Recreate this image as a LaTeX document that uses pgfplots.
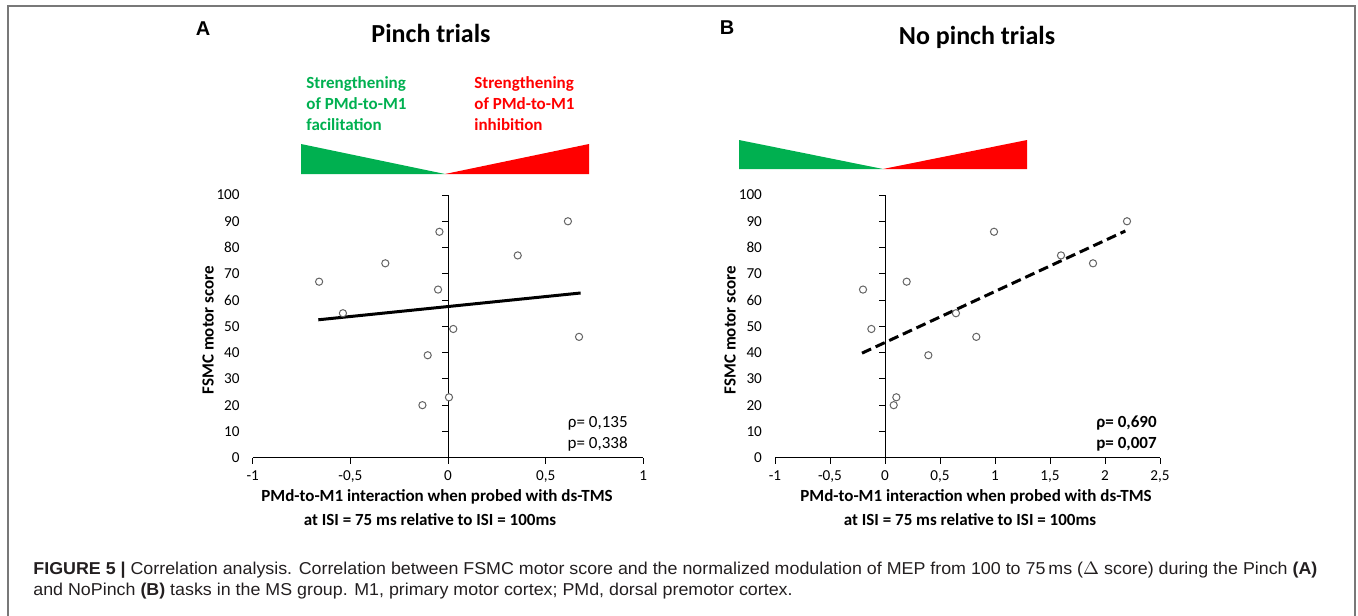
\documentclass[border=0pt]{standalone}
\usepackage{fontspec}
\setmainfont{Carlito}
\newfontfamily\capfont{Liberation Sans}
\usepackage{graphicx}
\usepackage{pgfplots}
\pgfplotsset{compat=1.18}

\definecolor{fgreen}{RGB}{0,176,80}
\definecolor{fred}{RGB}{255,0,0}
\definecolor{mkgray}{RGB}{100,100,100}
\definecolor{framegray}{RGB}{120,120,120}
\definecolor{captext}{RGB}{35,31,32}

\pgfplotstableread{
x y
-0.660 67
-0.538 55
-0.321 74
-0.044 86
-0.051 64
0.027 49
-0.104 39
-0.131 20
0.005 23
0.357 77
0.614 90
0.671 46
}\pinch

\pgfplotstableread{
x y
-0.200 64
-0.124 49
0.197 67
0.645 55
0.830 46
0.394 39
0.079 20
0.103 23
0.991 86
1.600 77
1.891 74
2.200 90
}\nopinch

\pgfplotsset{
  panel/.style={
    scale only axis, height=131.35pt, anchor=south west,
    ymin=0, ymax=100, ytick={0,10,...,100},
    axis x line=bottom, axis y line=left, axis line style={-, line width=0.5pt},
    y axis line style={draw=none}, ytick style={draw=none},
    tick align=outside, major tick length=3pt,
    xtick style={black, line width=0.5pt},
    ticklabel style={font=\fontsize{7.6}{9}\selectfont},
    /pgf/number format/use comma,
    /pgf/number format/assume math mode=true,
    clip=false,
  },
  pts/.style={only marks, mark=*, mark size=1.8pt,
    mark options={draw=mkgray, fill=white, line width=0.5pt}},
}

\newsavebox\capA
\newsavebox\capB
\begin{document}%
\sbox\capA{\capfont\fontsize{8.6}{10}\selectfont\color{captext}\textbf{FIGURE 5 |} Correlation analysis. Correlation between FSMC motor score and the normalized modulation of MEP from 100 to 75\,ms ($\Delta$ score) during the Pinch \textbf{(A)}}%
\sbox\capB{\capfont\fontsize{8.6}{10}\selectfont\color{captext}and NoPinch \textbf{(B)} tasks in the MS group. M1, primary motor cortex; PMd, dorsal premotor cortex.}%
\pgfmathsetmacro\capfac{642/\wd\capA}%
\begin{tikzpicture}[x=0.5pt, y=-0.5pt]
\useasboundingbox (0,0) rectangle (1358,615);
\draw[framegray, line width=1pt] (8,620) -- (8,6) -- (1355,6) -- (1355,620);

% panel labels and titles
\node[font=\capfont\fontsize{10}{12}\selectfont\bfseries] at (203,29) {A};
\node[font=\capfont\fontsize{10}{12}\selectfont\bfseries] at (727,28) {B};
\node[font=\fontsize{13}{15}\selectfont\bfseries] at (431,33) {Pinch trials};
\node[font=\fontsize{13}{15}\selectfont\bfseries] at (977,37) {No pinch trials};

% direction labels
\begin{scope}[every node/.style={font=\fontsize{8.5}{10}\selectfont\bfseries, inner sep=0pt}]
\node[fgreen, anchor=base west] at (306,89) {Strengthening};
\node[fgreen, anchor=base west] at (306,110) {of PMd-to-M1};
\node[fgreen, anchor=base west] at (306,130) {facilitation};
\node[fred, anchor=base west] at (474,89) {Strengthening};
\node[fred, anchor=base west] at (474,110) {of PMd-to-M1};
\node[fred, anchor=base west] at (474,130) {inhibition};
\end{scope}
\fill[fgreen] (301,144) -- (301,174) -- (445,174) -- cycle;
\fill[fred] (445,174) -- (589,174) -- (589,144) -- cycle;
\fill[fgreen] (739,140) -- (739,169) -- (883,169) -- cycle;
\fill[fred] (883,169) -- (1027,169) -- (1027,140) -- cycle;

% panel A
\begin{axis}[panel, at={(126.35pt,-228.85pt)}, width=195.3pt,
  xmin=-1, xmax=1, xtick={-1,-0.5,0,0.5,1}]
\draw[black, line width=0.5pt] (axis cs:0,0) -- (axis cs:0,100);
\pgfplotsinvokeforeach{10,20,...,100}{\draw[black, line width=0.5pt] (axis cs:0,#1) -- ++(-3pt,0pt);}
\addplot[black, line width=1.5pt] coordinates {(-0.664,52.5) (0.679,62.7)};
\addplot[pts] table {\pinch};
\end{axis}

% panel B
\begin{axis}[panel, at={(387.5pt,-228.85pt)}, width=192.5pt,
  xmin=-1, xmax=2.5, xtick={-1,-0.5,0,0.5,1,1.5,2,2.5}]
\draw[black, line width=0.5pt] (axis cs:0,0) -- (axis cs:0,100);
\pgfplotsinvokeforeach{10,20,...,100}{\draw[black, line width=0.5pt] (axis cs:0,#1) -- ++(-3pt,0pt);}
\addplot[black, line width=1.5pt, dash pattern=on 5pt off 2.5pt] coordinates {(-0.209,39.8) (2.185,86.3)};
\addplot[pts] table {\nopinch};
\end{axis}

% axis labels
\begin{scope}[every node/.style={font=\fontsize{8.5}{10}\selectfont\bfseries}]
\node[rotate=90] at (208,330) {FSMC motor score};
\node[rotate=90] at (730,330) {FSMC motor score};
\node at (437,497) {PMd-to-M1 interaction when probed with ds-TMS};
\node at (430,520) {at ISI = 75 ms relative to ISI = 100ms};
\node at (976,497) {PMd-to-M1 interaction when probed with ds-TMS};
\node at (970,520) {at ISI = 75 ms relative to ISI = 100ms};
\end{scope}

% statistics
\begin{scope}[every node/.style={font=\fontsize{8.5}{10}\selectfont, inner sep=0pt, anchor=base east}]
\node at (628,427) {ρ= 0,135};
\node at (628,448) {p= 0,338};
\node[font=\fontsize{8.5}{10}\selectfont\bfseries] at (1157,427) {ρ= 0,690};
\node[font=\fontsize{8.5}{10}\selectfont\bfseries] at (1157,448) {p= 0,007};
\end{scope}

% caption
\node[anchor=base west, inner sep=0pt] at (33,574) {\scalebox{\capfac}[1]{\usebox\capA}};
\node[anchor=base west, inner sep=0pt] at (33,595) {\scalebox{\capfac}[1]{\usebox\capB}};
\end{tikzpicture}%
\end{document}
